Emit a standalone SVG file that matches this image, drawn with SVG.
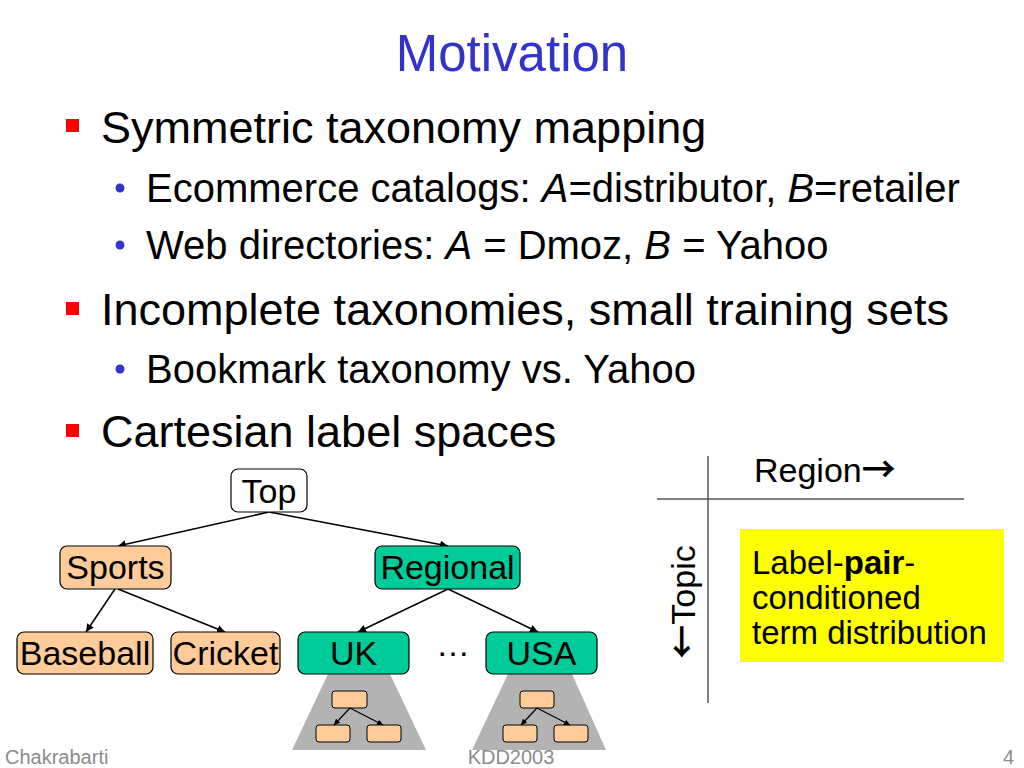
<svg xmlns="http://www.w3.org/2000/svg" width="1024" height="768" viewBox="0 0 1024 768">
<defs>
<style>
text{font-family:"Liberation Sans",Arial,sans-serif;fill:#000}
.title{font-size:51px;fill:#3333CC}
.b1{font-size:45px}
.b2{font-size:40px}
.nd{font-size:34px}
.pr{font-size:33px}
.arw{font-family:"Noto Sans CJK JP","DejaVu Sans",sans-serif;font-weight:bold}
.ft{font-size:20px;fill:#8c8c8c}
.sq{fill:#FF0000}
.dot{fill:#3333CC}
.or{fill:#FFCC99;stroke:#000;stroke-width:1.2}
.gr{fill:#00CC99;stroke:#000;stroke-width:1.2}
.wh{fill:#FFFFFF;stroke:#000;stroke-width:1.2}
.sm{fill:#FFCC99;stroke:#000;stroke-width:1}
.tri{fill:#B3B3B3}
.con{stroke:#000;stroke-width:1.5;fill:none}
.scon{stroke:#000;stroke-width:1.2;fill:none}
.axis{stroke:#555;stroke-width:1.5}
</style>
<marker id="ah" viewBox="0 0 10 10" refX="10" refY="5" markerWidth="8" markerHeight="8" markerUnits="userSpaceOnUse" orient="auto">
<path d="M0,0 L10,5 L0,10 z" fill="#000"/>
</marker>
<marker id="ahs" viewBox="0 0 10 10" refX="10" refY="5" markerWidth="6" markerHeight="6" markerUnits="userSpaceOnUse" orient="auto">
<path d="M0,0 L10,5 L0,10 z" fill="#000"/>
</marker>
</defs>
<rect width="1024" height="768" fill="#FFFFFF"/>

<text class="title" x="512" y="71" text-anchor="middle">Motivation</text>

<g id="bullets">
<rect class="sq" x="66" y="119" width="13" height="13"/>
<text class="b1" x="101" y="143">Symmetric taxonomy mapping</text>
<circle class="dot" cx="120" cy="188" r="4.5"/>
<text class="b2" x="146" y="202">Ecommerce catalogs: <tspan font-style="italic">A</tspan>=distributor, <tspan font-style="italic">B</tspan>=retailer</text>
<circle class="dot" cx="120" cy="245" r="4.5"/>
<text class="b2" x="146" y="259">Web directories: <tspan font-style="italic">A</tspan> = Dmoz, <tspan font-style="italic">B</tspan> = Yahoo</text>
<rect class="sq" x="66" y="302" width="13" height="13"/>
<text class="b1" x="101" y="325">Incomplete taxonomies, small training sets</text>
<circle class="dot" cx="120" cy="369" r="4.5"/>
<text class="b2" x="146" y="383">Bookmark taxonomy vs. Yahoo</text>
<rect class="sq" x="66" y="424" width="13" height="13"/>
<text class="b1" x="101" y="447">Cartesian label spaces</text>
</g>

<g id="subtree-uk">
<polygon class="tri" points="328,674 390,674 426,750 292,750"/>
<rect class="sm" x="332" y="691" width="35" height="17" rx="3"/>
<rect class="sm" x="316" y="725" width="34" height="17" rx="3"/>
<rect class="sm" x="367" y="725" width="34" height="17" rx="3"/>
</g>
<g id="subtree-usa">
<polygon class="tri" points="508,674 572,674 606,750 472,750"/>
<rect class="sm" x="520" y="691" width="34" height="17" rx="3"/>
<rect class="sm" x="503" y="725" width="34" height="17" rx="3"/>
<rect class="sm" x="554" y="725" width="34" height="17" rx="3"/>
</g>

<g id="connectors">
<line class="con" x1="269" y1="512" x2="118" y2="546" marker-end="url(#ah)"/>
<line class="con" x1="269" y1="512" x2="448" y2="546" marker-end="url(#ah)"/>
<line class="con" x1="115" y1="589" x2="86" y2="632" marker-end="url(#ah)"/>
<line class="con" x1="118" y1="589" x2="225" y2="632" marker-end="url(#ah)"/>
<line class="con" x1="448" y1="589" x2="358" y2="632" marker-end="url(#ah)"/>
<line class="con" x1="448" y1="589" x2="538" y2="632" marker-end="url(#ah)"/>
<line class="scon" x1="350" y1="708" x2="334" y2="725" marker-end="url(#ahs)"/>
<line class="scon" x1="350" y1="708" x2="383" y2="725" marker-end="url(#ahs)"/>
<line class="scon" x1="537" y1="708" x2="521" y2="725" marker-end="url(#ahs)"/>
<line class="scon" x1="537" y1="708" x2="570" y2="725" marker-end="url(#ahs)"/>
</g>

<g id="node-top">
<rect class="wh" x="231" y="469" width="76" height="43" rx="7"/>
<text class="nd" x="269" y="503" text-anchor="middle">Top</text>
</g>
<g id="node-sports">
<rect class="or" x="60" y="546" width="111" height="43" rx="7"/>
<text class="nd" x="115.5" y="579" text-anchor="middle">Sports</text>
</g>
<g id="node-regional">
<rect class="gr" x="375" y="546" width="145" height="43" rx="7"/>
<text class="nd" x="447.5" y="579" text-anchor="middle">Regional</text>
</g>
<g id="node-baseball">
<rect class="or" x="17" y="632" width="136" height="42" rx="7"/>
<text class="nd" x="85" y="665" text-anchor="middle">Baseball</text>
</g>
<g id="node-cricket">
<rect class="or" x="171" y="632" width="109" height="42" rx="7"/>
<text class="nd" x="225.5" y="665" text-anchor="middle">Cricket</text>
</g>
<g id="node-uk">
<rect class="gr" x="298" y="632" width="111" height="42" rx="7"/>
<text class="nd" x="353.5" y="665" text-anchor="middle">UK</text>
</g>
<g id="node-usa">
<rect class="gr" x="486" y="632" width="111" height="42" rx="7"/>
<text class="nd" x="541.5" y="665" text-anchor="middle">USA</text>
</g>
<text class="nd" x="453" y="656" text-anchor="middle">…</text>

<g id="grid">
<line class="axis" x1="708" y1="456" x2="708" y2="703"/>
<line class="axis" x1="657" y1="499" x2="964" y2="499"/>
<text class="nd" x="754" y="482">Region<tspan class="arw" font-size="34">→</tspan></text>
<text class="nd" transform="translate(695,602) rotate(-90)" text-anchor="middle"><tspan class="arw" font-size="34">←</tspan>Topic</text>
</g>

<g id="node-pair">
<rect x="740" y="529" width="264" height="133" fill="#FFFF00"/>
<text class="pr" x="752" y="574">Label-<tspan font-weight="bold">pair</tspan>-</text>
<text class="pr" x="752" y="609">conditioned</text>
<text class="pr" x="752" y="644">term distribution</text>
</g>

<g id="footer">
<text class="ft" x="5" y="764">Chakrabarti</text>
<text class="ft" x="511" y="764" text-anchor="middle">KDD2003</text>
<text class="ft" x="1014" y="764" text-anchor="end">4</text>
</g>
</svg>
